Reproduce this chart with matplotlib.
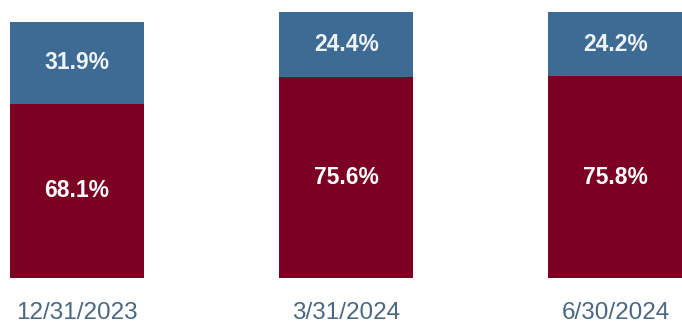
import matplotlib.pyplot as plt
import numpy as np

# share of each period, stacked to 100%
dates = ["12/31/2023", "3/31/2024", "6/30/2024"]
bottom_share = [68.1, 75.6, 75.8]
top_share = [31.9, 24.4, 24.2]

RED = "#7b0022"
BLUE = "#3d6b94"
DATE_COLOR = "#4b6882"

# first column sits a little shorter than the others
bar_scale = [0.962, 1.0, 1.0]

fig = plt.figure(figsize=(6.82, 3.26), dpi=100)
ax = fig.add_axes([0, 0, 1, 1])

x = np.arange(len(dates))
scale = np.array(bar_scale)
lower = np.array(bottom_share) * scale
upper = np.array(top_share) * scale

ax.bar(x, lower, width=0.498, color=RED, linewidth=0)
ax.bar(x, upper, width=0.498, bottom=lower, color=BLUE, linewidth=0)

for xi, lo, up, lo_v, up_v in zip(x, lower, upper, bottom_share, top_share):
    ax.text(xi, lo / 2, f"{lo_v:.1f}%", ha="center", va="center",
            color="white", fontsize=16.5, fontweight="bold",
            family="Liberation Sans")
    ax.text(xi, lo + up / 2, f"{up_v:.1f}%", ha="center", va="center",
            color="#eef3f8", fontsize=16.5, fontweight="bold",
            family="Liberation Sans")

for xi, d in zip(x, dates):
    ax.text(xi, -13.3, d, ha="center", va="center", color=DATE_COLOR,
            fontsize=17.5, family="Liberation Sans")

ax.set_xlim(-0.286, 2.247)
ax.set_ylim(-18.05, 104.5)
ax.axis("off")

fig.savefig("out.png", dpi=100)
